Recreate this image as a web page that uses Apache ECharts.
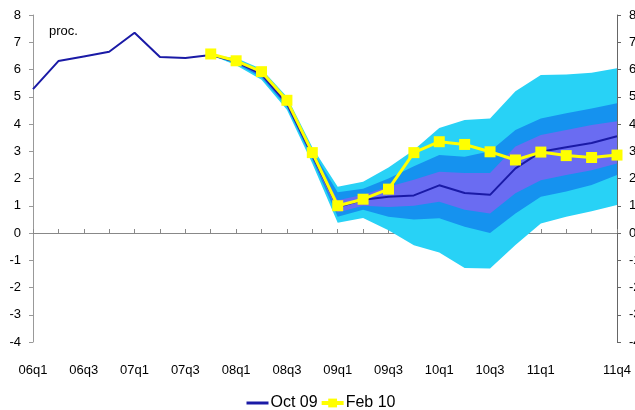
<!DOCTYPE html>
<html>
<head>
<meta charset="utf-8">
<script src="https://cdn.jsdelivr.net/npm/echarts@6/dist/echarts.min.js"></script>
<style>
html,body{margin:0;padding:0;background:#fff;}
#chart{width:635px;height:410px;}
</style>
</head>
<body>
<div id="chart"></div>
<script>
const quarters = ['06q1','06q2','06q3','06q4','07q1','07q2','07q3','07q4','08q1','08q2','08q3','08q4','09q1','09q2','09q3','09q4','10q1','10q2','10q3','10q4','11q1','11q2','11q3','11q4'];
const shownLabels = ['06q1','06q3','07q1','07q3','08q1','08q3','09q1','09q3','10q1','10q3','11q1','11q4'];
const yTicks = [-4,-3,-2,-1,0,1,2,3,4,5,6,7,8];

// Oct 09 projection (central line)
const oct09 = [5.28,6.31,6.48,6.65,7.35,6.46,6.42,6.53,6.28,5.82,4.75,2.85,0.95,1.22,1.33,1.38,1.75,1.47,1.40,2.37,2.98,3.15,3.30,3.55];
// Feb 10 projection
const feb10 = [null,null,null,null,null,null,null,6.57,6.32,5.92,4.87,2.95,1.00,1.24,1.61,2.95,3.35,3.25,2.98,2.68,2.97,2.84,2.77,2.86];

// Fan chart bands (from 07q4)
const pad = [null,null,null,null,null,null,null];
const outerHigh = pad.concat([6.53,6.42,6.02,5.00,3.15,1.70,1.88,2.40,3.05,3.85,4.15,4.20,5.20,5.80,5.82,5.88,6.05]);
const outerLow  = pad.concat([6.53,6.16,5.62,4.52,2.55,0.38,0.55,0.10,-0.45,-0.72,-1.28,-1.30,-0.44,0.35,0.60,0.80,1.03]);
const midHigh   = pad.concat([6.53,6.36,5.93,4.88,3.02,1.50,1.62,2.00,2.45,2.86,2.80,3.00,3.78,4.20,4.39,4.57,4.76]);
const midLow    = pad.concat([6.53,6.21,5.71,4.62,2.70,0.60,0.85,0.60,0.50,0.54,0.23,0.00,0.72,1.33,1.52,1.76,2.13]);
const innerHigh = pad.concat([6.53,6.32,5.87,4.81,2.93,1.20,1.40,1.70,1.95,2.25,2.20,2.20,3.17,3.60,3.78,3.96,4.10]);
const innerLow  = pad.concat([6.53,6.25,5.77,4.68,2.78,0.75,1.00,0.95,1.00,1.15,0.85,0.72,1.46,1.94,2.13,2.30,2.55]);

const diff = (hi, lo) => hi.map((v, i) => (v == null || lo[i] == null) ? null : +(v - lo[i]).toFixed(3));

function band(name, lo, hi, color, z) {
  return [
    { name: name + 'Base', type: 'line', data: lo, stack: name, stackStrategy: 'all', symbol: 'none',
      lineStyle: { opacity: 0, width: 0 }, silent: true, z: z },
    { name: name + 'Band', type: 'line', data: diff(hi, lo), stack: name, stackStrategy: 'all', symbol: 'none',
      lineStyle: { opacity: 0, width: 0 }, areaStyle: { color: color, opacity: 1 }, silent: true, z: z }
  ];
}

const chart = echarts.init(document.getElementById('chart'), null, { renderer: 'canvas' });
const font = 'Arial, "Liberation Sans", sans-serif';
chart.setOption({
  animation: false,
  backgroundColor: '#fff',
  grid: { left: 33, right: 18, top: 15, bottom: 68, containLabel: false, outerBoundsMode: 'none' },
  graphic: [{ type: 'text', left: 49, top: 25, style: { text: 'proc.', font: '13px ' + font, fill: '#000' } }],
  legend: {
    data: [
      { name: 'Oct 09', itemStyle: { color: 'rgba(0,0,0,0)', borderWidth: 0, opacity: 0 }, lineStyle: { width: 3, color: '#1a1aa6' } },
      { name: 'Feb 10', lineStyle: { width: 4, color: '#ffff00' } }
    ],
    left: 240, top: 390, itemWidth: 22, itemHeight: 11, itemGap: 2,
    textStyle: { fontFamily: font, fontSize: 16, color: '#000', padding: [0, 0, 0, -3] }
  },
  xAxis: {
    type: 'category', data: quarters, boundaryGap: false,
    axisLine: { lineStyle: { color: '#888', width: 1 } },
    axisTick: { show: true, inside: true, length: 4, interval: 0, lineStyle: { color: '#888' } },
    axisLabel: { interval: (i, v) => shownLabels.indexOf(v) >= 0, margin: 22, fontFamily: font, fontSize: 13, color: '#000' },
    splitLine: { show: false }
  },
  yAxis: [
    { type: 'value', min: yTicks[0], max: yTicks[yTicks.length - 1], interval: 1, position: 'left',
      axisLine: { show: true, lineStyle: { color: '#999' } },
      axisTick: { show: true, length: 4, lineStyle: { color: '#999' } },
      axisLabel: { margin: 12, fontFamily: font, fontSize: 13, color: '#000' }, splitLine: { show: false } },
    { type: 'value', min: yTicks[0], max: yTicks[yTicks.length - 1], interval: 1, position: 'right',
      axisLine: { show: true, lineStyle: { color: '#666' } },
      axisTick: { show: true, length: 4, lineStyle: { color: '#666' } },
      axisLabel: { margin: 12, fontFamily: font, fontSize: 13, color: '#000' }, splitLine: { show: false } }
  ],
  series: [
    ...band('outer', outerLow, outerHigh, '#28d2f6', 1),
    ...band('mid', midLow, midHigh, '#1592ef', 2),
    ...band('inner', innerLow, innerHigh, '#6a6cf2', 3),
    { name: 'Oct 09', type: 'line', data: oct09, symbol: 'none', z: 5,
      lineStyle: { color: '#1a1aa6', width: 2 }, itemStyle: { color: '#1a1aa6' } },
    { name: 'Feb 10', type: 'line', data: feb10, symbol: 'rect', symbolSize: 11, z: 6,
      lineStyle: { color: '#ffff00', width: 3 }, itemStyle: { color: '#ffff00' } }
  ]
});
</script>
</body>
</html>
